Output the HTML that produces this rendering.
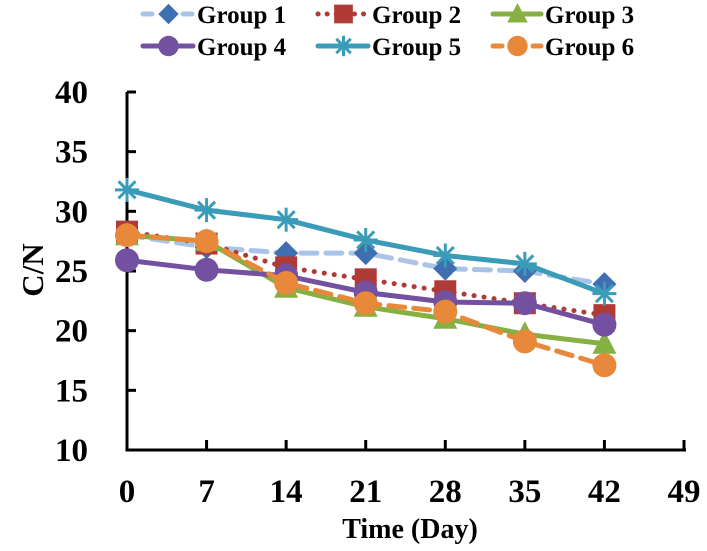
<!DOCTYPE html>
<html><head><meta charset="utf-8"><style>
body{margin:0;background:#fff;}
svg text{font-family:"Liberation Serif",serif;font-weight:bold;}
</style></head><body>
<svg id="chart" width="707" height="546" viewBox="0 0 707 546" xmlns="http://www.w3.org/2000/svg">
<g id="legend"></g>
<g id="axes"></g>
<g id="series"></g>
</svg>
<script>
const days = [0, 7, 14, 21, 28, 35, 42];
const xTicks = [0, 7, 14, 21, 28, 35, 42, 49];
const yTicks = [10, 15, 20, 25, 30, 35, 40];
const g1 = [28, 27, 26.5, 26.5, 25.2, 25, 23.9];
const g2 = [28.3, 27.3, 25.3, 24.3, 23.3, 22.3, 21.3];
const g3 = [28, 27.5, 23.6, 22, 21, 19.7, 18.9];
const g4 = [25.9, 25.1, 24.6, 23.2, 22.4, 22.3, 20.5];
const g5 = [31.8, 30.1, 29.3, 27.6, 26.3, 25.6, 23.1];
const g6 = [28, 27.5, 24, 22.3, 21.6, 19.1, 17.1];
const names = ["Group 1","Group 2","Group 3","Group 4","Group 5","Group 6"];

const NS="http://www.w3.org/2000/svg";
const X0=127, X1=684, Y0=450, Y1=92;
function xs(d){return X0+(d-0)/(49-0)*(X1-X0);}
function ys(v){return Y0-(v-10)/(40-10)*(Y0-Y1);}
function mk(tag,attrs,parent){const e=document.createElementNS(NS,tag);for(const k in attrs)e.setAttribute(k,attrs[k]);parent.appendChild(e);return e;}
const axes=document.getElementById('axes'), ser=document.getElementById('series'), leg=document.getElementById('legend');

let a=mk('line',{x1:X0,y1:Y1,x2:X0,y2:Y0+1.5,stroke:'#000','stroke-width':3},axes);


a=mk('line',{x1:X0-1.5,y1:Y0,x2:X1+2,y2:Y0,stroke:'#000','stroke-width':3},axes);


yTicks.forEach(v=>{
  const y=ys(v);
  const t=mk('line',{x1:X0,y1:y,x2:X0+9,y2:y,stroke:'#000','stroke-width':3},axes);
  
  
  const l=mk('text',{x:88,y:y+11,'text-anchor':'end','font-size':33},axes);
  l.textContent=v;
  
  
});
xTicks.forEach(d=>{
  const x=xs(d);
  const t=mk('line',{x1:x,y1:Y0,x2:x,y2:Y0-10,stroke:'#000','stroke-width':3},axes);
  
  
  const l=mk('text',{x:x,y:502,'text-anchor':'middle','font-size':33},axes);
  l.textContent=d;
  
  
});
let tt=mk('text',{x:410,y:538,'text-anchor':'middle','font-size':28},axes);
tt.textContent='Time (Day)';


tt=mk('text',{x:0,y:0,'text-anchor':'middle','font-size':31,transform:'translate(43,270) rotate(-90)'},axes);
tt.textContent='C/N';



function marker(type,color,x,y,parent,s){
  s=s||1;let m;
  if(type==='diamond') m=mk('polygon',{points:`${x},${y-12*s} ${x+12*s},${y} ${x},${y+12*s} ${x-12*s},${y}`,fill:color},parent);
  else if(type==='square') m=mk('rect',{x:x-11*s,y:y-11*s,width:22*s,height:22*s,fill:color},parent);
  else if(type==='triangle') m=mk('polygon',{points:`${x},${y-13*s} ${x+12*s},${y+10*s} ${x-12*s},${y+10*s}`,fill:color},parent);
  else if(type==='circle') m=mk('circle',{cx:x,cy:y,r:12*s,fill:color},parent);
  else { const r=12*s, q=8.5*s; m=mk('g',{stroke:color,'stroke-width':3},parent);
    mk('line',{x1:x-r,y1:y,x2:x+r,y2:y},m);mk('line',{x1:x,y1:y-r,x2:x,y2:y+r},m);
    mk('line',{x1:x-q,y1:y-q,x2:x+q,y2:y+q},m);mk('line',{x1:x-q,y1:y+q,x2:x+q,y2:y-q},m);}
  return m;
}
const cfg=[
 {data:g1,line:'#a9c4e6',dash:'16,9',mk:'diamond',mc:'#3f6fb0',w:5,cap:'round'},
 {data:g2,line:'#b03a36',dash:'0.1,10',mk:'square',mc:'#b03a36',w:5,cap:'round'},
 {data:g3,line:'#86b042',dash:'',mk:'triangle',mc:'#86b042',w:5,cap:'butt'},
 {data:g4,line:'#7350a0',dash:'',mk:'circle',mc:'#7350a0',w:5,cap:'butt'},
 {data:g5,line:'#3a9cb8',dash:'',mk:'star',mc:'#3a9cb8',w:5,cap:'butt'},
 {data:g6,line:'#e8883a',dash:'16,9',mk:'circle',mc:'#e8883a',w:5,cap:'round'}
];
const legX=[[140,197],[315,372],[490,545]], legY=[14,46];
cfg.forEach((c,i)=>{
  const g=mk('g',{},ser);
  
  
  const pts=c.data.map((v,j)=>xs(days[j])+','+ys(v)).join(' ');
  const pl=mk('polyline',{points:pts,fill:'none',stroke:c.line,'stroke-width':c.w,'stroke-dasharray':c.dash,'stroke-linecap':c.cap,'stroke-linejoin':'round'},g);
  
  
  c.data.forEach((v,j)=>{
    const m=marker(c.mk,c.mc,xs(days[j]),ys(v),g);
    
    
  });
  const col=i%3,row=Math.floor(i/3);
  const lx=legX[col][0], tx=legX[col][1], ly=legY[row];
  const le=mk('g',{},leg);
  
  
  mk('line',{x1:lx+3,y1:ly,x2:tx-4,y2:ly,stroke:c.line,'stroke-width':c.w,'stroke-dasharray':c.dash?(c.dash==='0.1,10'?'0.1,9':'9,11'):'','stroke-linecap':'round'},le);
  marker(c.mk,c.mc,(lx+tx)/2,ly,le,0.85);
  const t=mk('text',{x:tx,y:ly+9,'font-size':25},le);
  t.textContent=names[i];
});
</script>
</body></html>
